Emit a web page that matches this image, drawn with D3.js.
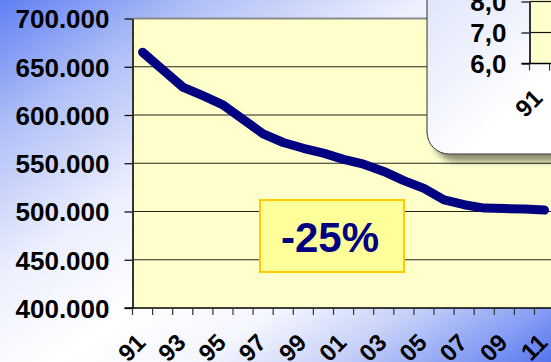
<!DOCTYPE html>
<html>
<head>
<meta charset="utf-8">
<script src="https://cdn.jsdelivr.net/npm/d3@7/dist/d3.min.js"></script>
<style>
  html, body { margin: 0; padding: 0; overflow: hidden; background: #fff; }
  svg { display: block; }
  text { font-family: "Liberation Sans", Arial, sans-serif; font-weight: bold; }
</style>
</head>
<body>
<svg id="chart" width="551" height="362"></svg>
<script>
// Employees per year, 1991-2011
const years = [1991, 1992, 1993, 1994, 1995, 1996, 1997, 1998, 1999, 2000, 2001,
               2002, 2003, 2004, 2005, 2006, 2007, 2008, 2009, 2010, 2011];
const employees = [665000, 647000, 629000, 620000, 610500, 595500, 580500, 571500,
                   565500, 560500, 554000, 549000, 541500, 532000, 524000, 512000,
                   507000, 503500, 503000, 502500, 501500];
const yTicks = [400000, 450000, 500000, 550000, 600000, 650000, 700000];
const labelYears = [1991, 1993, 1995, 1997, 1999, 2001, 2003, 2005, 2007, 2009, 2011];
const changeLabel = "-25%";

// Small companion chart (top right)
const insetTicks = [6, 7, 8];
const insetLabelYears = [1991];

const W = 551, H = 362;
const svg = d3.select("#chart");

const locale = d3.formatLocale({ decimal: ",", thousands: ".", grouping: [3], currency: ["", " €"] });
const fmtMain = locale.format(",.0f");
const fmtInset = locale.format(".1f");
const fmtYear = d => d3.format("02")(d % 100);

const defs = svg.append("defs");
const bg = defs.append("linearGradient").attr("id", "bg")
  .attr("x1", 0).attr("y1", 0).attr("x2", 1).attr("y2", 1);
[[0, "#5f7ff2"], [0.18, "#b0bff7"], [0.38, "#eceffd"], [0.55, "#ffffff"],
 [0.68, "#f4f6fe"], [0.8, "#c8d2f9"], [0.92, "#869ef4"], [1, "#5575ef"]]
  .forEach(([o, c]) => bg.append("stop").attr("offset", o).attr("stop-color", c));

const boxGrad = defs.append("linearGradient").attr("id", "boxGrad")
  .attr("x1", 0).attr("y1", 0).attr("x2", 1).attr("y2", 1);
boxGrad.append("stop").attr("offset", 0).attr("stop-color", "#d9e0fa");
boxGrad.append("stop").attr("offset", 0.6).attr("stop-color", "#ffffff");

const shadow = defs.append("filter").attr("id", "shadow")
  .attr("x", "-20%").attr("y", "-20%").attr("width", "150%").attr("height", "150%");
shadow.append("feGaussianBlur").attr("in", "SourceAlpha").attr("stdDeviation", 3).attr("result", "b");
shadow.append("feOffset").attr("in", "b").attr("dx", 7).attr("dy", 7).attr("result", "o");
shadow.append("feFlood").attr("flood-color", "#000").attr("flood-opacity", 0.45);
shadow.append("feComposite").attr("in2", "o").attr("operator", "in").attr("result", "s");
const sm = shadow.append("feMerge");
sm.append("feMergeNode").attr("in", "s");
sm.append("feMergeNode").attr("in", "SourceGraphic");

svg.append("rect").attr("width", W).attr("height", H).attr("fill", "url(#bg)");

// ---- main chart ----
const plotLeft = 132.5, plotTop = 18.5, plotBottom = 308, step = 20.1;
const x = d3.scaleBand().domain(years).range([plotLeft, plotLeft + step * years.length]);
const y = d3.scaleLinear().domain([400000, 700000]).range([plotBottom, plotTop]);

svg.append("rect").attr("x", plotLeft).attr("y", plotTop)
  .attr("width", W - plotLeft).attr("height", plotBottom - plotTop).attr("fill", "#ffffcc");

svg.append("g").selectAll("line")
  .data(yTicks.filter(v => v > 400000 && v < 700000))
  .join("line")
  .attr("x1", plotLeft).attr("x2", W)
  .attr("y1", d => y(d)).attr("y2", d => y(d))
  .attr("stroke", "#222").attr("stroke-width", 1.2);

svg.append("line").attr("x1", plotLeft).attr("x2", W)
  .attr("y1", y(700000)).attr("y2", y(700000))
  .attr("stroke", "#8a8a8a").attr("stroke-width", 2);

const yAxis = svg.append("g").attr("transform", `translate(${plotLeft},0)`)
  .call(d3.axisLeft(y).tickValues(yTicks).tickFormat(fmtMain).tickSize(8).tickSizeOuter(0).tickPadding(15));
yAxis.select(".domain").attr("stroke", "#333").attr("stroke-width", 2);
yAxis.selectAll(".tick line").attr("stroke", "#000").attr("stroke-width", 1.2);
yAxis.selectAll(".tick text").attr("font-size", 26).attr("fill", "#000")
  .attr("font-family", "Liberation Sans, Arial, sans-serif").attr("font-weight", "bold")
  .attr("dy", "0.36em");

// category axis: ticks between categories
svg.append("line").attr("x1", plotLeft - 8).attr("x2", W)
  .attr("y1", plotBottom).attr("y2", plotBottom).attr("stroke", "#000").attr("stroke-width", 1.5);
const bounds = years.map(d => x(d)).concat([x(years[years.length - 1]) + x.bandwidth()]);
svg.append("g").selectAll("line").data(bounds).join("line")
  .attr("x1", d => d).attr("x2", d => d)
  .attr("y1", plotBottom).attr("y2", plotBottom + 7)
  .attr("stroke", "#333").attr("stroke-width", 1.2);

svg.append("g").selectAll("text").data(labelYears).join("text")
  .attr("transform", d => `translate(${x(d) + x.bandwidth() / 2 + 4.5},${plotBottom + 36}) rotate(-45)`)
  .attr("text-anchor", "end").attr("font-size", 24).attr("fill", "#000")
  .text(fmtYear);

// employee line
const line = d3.line()
  .x(d => x(d[0]) + x.bandwidth() / 2)
  .y(d => y(d[1]));
svg.append("path").datum(years.map((yr, i) => [yr, employees[i]]))
  .attr("d", line).attr("fill", "none")
  .attr("stroke", "#000080").attr("stroke-width", 9)
  .attr("stroke-linejoin", "round").attr("stroke-linecap", "round");

// change label
const lbl = svg.append("g");
lbl.append("rect").attr("x", 260).attr("y", 200).attr("width", 144).attr("height", 72)
  .attr("fill", "#ffff99").attr("stroke", "#ffcc00").attr("stroke-width", 2);
lbl.append("text").attr("x", 330).attr("y", 252).attr("text-anchor", "middle")
  .attr("font-size", 42).attr("fill", "#000080").text(changeLabel);

// ---- inset chart ----
const inset = svg.append("g");
inset.append("rect").attr("x", 427).attr("y", -40).attr("width", 200).attr("height", 194)
  .attr("rx", 22).attr("fill", "url(#boxGrad)").attr("stroke", "#333").attr("stroke-width", 1)
  .attr("filter", "url(#shadow)");

const iLeft = 529.5, iBottom = 63.5;
const xi = d3.scaleBand().domain(years).range([iLeft, iLeft + step * years.length]);
const yi = d3.scaleLinear().domain([6, 8]).range([iBottom, 1.5]);

inset.append("rect").attr("x", iLeft).attr("y", 0)
  .attr("width", W - iLeft).attr("height", iBottom).attr("fill", "#ffffcc");
inset.append("g").selectAll("line").data(insetTicks.filter(v => v > 6)).join("line")
  .attr("x1", iLeft).attr("x2", W).attr("y1", d => yi(d)).attr("y2", d => yi(d))
  .attr("stroke", "#111").attr("stroke-width", 1.2);

const yiAxis = inset.append("g").attr("transform", `translate(${iLeft},0)`)
  .call(d3.axisLeft(yi).tickValues(insetTicks).tickFormat(fmtInset).tickSize(8).tickSizeOuter(0).tickPadding(15));
yiAxis.select(".domain").attr("stroke", "#333").attr("stroke-width", 2);
yiAxis.selectAll(".tick line").attr("stroke", "#000").attr("stroke-width", 1.2);
yiAxis.selectAll(".tick text").attr("font-size", 26).attr("fill", "#000")
  .attr("font-family", "Liberation Sans, Arial, sans-serif").attr("font-weight", "bold")
  .attr("dy", "0.36em");

inset.append("line").attr("x1", iLeft - 8).attr("x2", W)
  .attr("y1", iBottom).attr("y2", iBottom).attr("stroke", "#000").attr("stroke-width", 1.5);
const iBounds = years.map(d => xi(d));
inset.append("g").selectAll("line").data(iBounds).join("line")
  .attr("x1", d => d).attr("x2", d => d)
  .attr("y1", iBottom).attr("y2", iBottom + 7)
  .attr("stroke", "#333").attr("stroke-width", 1.2);
inset.append("g").selectAll("text").data(insetLabelYears).join("text")
  .attr("transform", d => `translate(${xi(d) + xi.bandwidth() / 2 + 4.5},${iBottom + 36}) rotate(-45)`)
  .attr("text-anchor", "end").attr("font-size", 24).attr("fill", "#000")
  .text(fmtYear);
</script>
</body>
</html>
